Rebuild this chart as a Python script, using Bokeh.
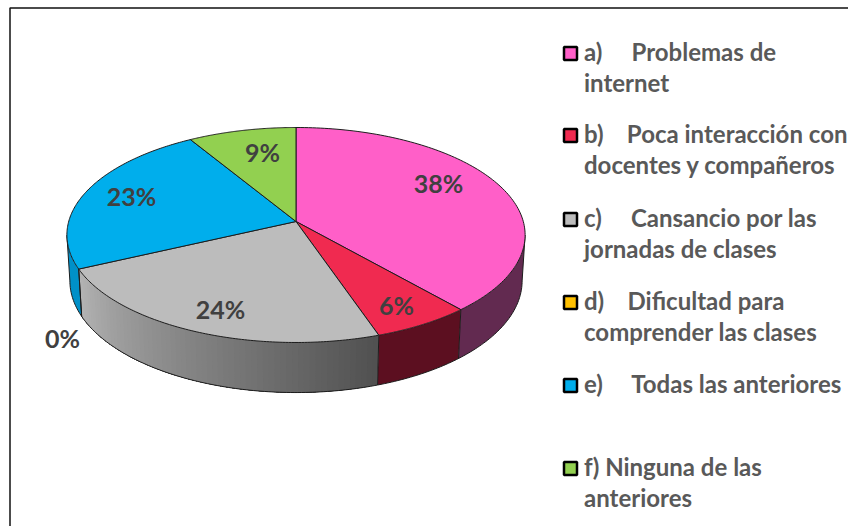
import numpy as np
from bokeh.plotting import figure
from bokeh.models import Range1d
from bokeh.core.properties import value
from bokeh.embed import file_html
from bokeh.resources import INLINE

# ---- data ----
categories = ["a", "b", "c", "d", "e", "f"]
values = [38.6, 6.2, 23.2, 0, 23.4, 8.6]
value_labels = ["38%", "6%", "24%", "0%", "23%", "9%"]
NB = "\u00a0"
legend_labels = [
    "a)" + NB * 4 + " Problemas de\ninternet",
    "b)" + NB * 3 + " Poca interacción con\ndocentes y compañeros",
    "c)" + NB * 4 + " Cansancio por las\njornadas de clases",
    "d)" + NB * 3 + " Dificultad para\ncomprender las clases",
    "e)" + NB * 4 + " Todas las anteriores",
    "f) Ninguna de las\nanteriores",
]
# ---- style ----
top_colors = ["#ff5fc8", "#f02a50", "#bcbcbc", "#ffc000", "#00aeec", "#92d050"]
side_colors = ["#622a50", "#5c0f20", None, "#a87800", "#0090c8", "#5f8a30"]
grey_from, grey_to = np.array([0xb4, 0xb4, 0xb4]), np.array([0x50, 0x50, 0x50])
edge = "#1c1c1c"
# ---- layout (picture pixels) ----
cx, cy, R, S, k, D, m = 295.5, 221.0, 227.3, 105.8, 0.1255, 46.0, 0.013
label_x = [438, 396, 220, 62, 131, 262]
label_y = [182, 304, 308, 337, 195, 151]
legend_y = [53, 135, 219, 302, 385, 468]
FONT = "Lato"
W, H = 848, 526

p = figure(width=W, height=H, output_backend="svg", toolbar_location=None,
           x_range=Range1d(0, W), y_range=Range1d(H, 0),
           min_border=0, outline_line_color=None)
p.axis.visible = False
p.grid.visible = False


def top(theta):
    u, v = np.sin(theta), np.cos(theta)
    w = 1 + k * v
    return cx + R * u / w, cy - S * v / w


def bottom(theta):
    u, v = np.sin(theta), np.cos(theta)
    w = 1 + k * v + m
    return cx + R * u / w, cy + (D - S * v) / w


total = sum(values)
edges = 2 * np.pi * np.cumsum([0] + values) / total
vis0 = np.arccos(-k)
vis1 = 2 * np.pi - vis0

# sides: solid polygons, and overlapping strips for the shaded one
sx, sy, sc = [], [], []
for i in range(len(values)):
    a, b = max(edges[i], vis0), min(edges[i + 1], vis1)
    if b <= a:
        continue
    if side_colors[i] is not None:
        t = np.linspace(a, b, 60)
        xa, ya = top(t)
        xb, yb = bottom(t[::-1])
        sx.append(np.r_[xa, xb].tolist())
        sy.append(np.r_[ya, yb].tolist())
        sc.append(side_colors[i])
    else:
        n = 64
        ts = np.linspace(a, b, n + 1)
        # painted from the far end so each strip reaches under the next one
        for j in range(n):
            t = np.linspace(ts[j], b, 40)
            xa, ya = top(t)
            xb, yb = bottom(t[::-1])
            sx.append(np.r_[xa, xb].tolist())
            sy.append(np.r_[ya, yb].tolist())
            f = (j + 0.5) / n
            c = grey_to + (grey_from - grey_to) * f
            sc.append("#%02x%02x%02x" % tuple(int(round(q)) for q in c))
p.patches(sx, sy, fill_color=sc, line_color=None)

# side outlines
rim = np.linspace(vis0, vis1, 200)
rx, ry = bottom(rim)
lx, ly = [rx.tolist()], [ry.tolist()]
for t in [vis0, vis1] + [e for e in edges if vis0 < e < vis1]:
    xa, ya = top(np.array([t]))
    xb, yb = bottom(np.array([t]))
    lx.append([xa[0], xb[0]])
    ly.append([ya[0], yb[0]])
p.multi_line(lx, ly, line_color=edge, line_width=1)

# top faces
fx, fy, fc = [], [], []
for i in range(len(values)):
    if values[i] == 0:
        continue
    t = np.linspace(edges[i], edges[i + 1], 120)
    x, y = top(t)
    fx.append([cx] + x.tolist())
    fy.append([cy] + y.tolist())
    fc.append(top_colors[i])
p.patches(fx, fy, fill_color=fc, line_color=edge, line_width=1)

# slice labels
p.text(label_x, label_y, text=value_labels, text_font=value(FONT),
       text_font_style="bold", text_font_size="25px", text_color="#404040",
       text_align="center", text_baseline="middle")

# legend
p.scatter([570] * len(legend_y), legend_y, marker="square", size=13,
          fill_color=top_colors, line_color="#000000", line_width=2.5)
p.text([583.5] * len(legend_y), [y - 17 for y in legend_y], text=legend_labels,
       text_font=value(FONT), text_font_style="bold", text_font_size="24px",
       text_color="#595959", text_align="left", text_baseline="top",
       text_line_height=1.08)

# frame: top and left edges only
p.line([848, 9.5, 9.5], [7.5, 7.5, 526], line_color="#111111", line_width=1.5)

open("out.html", "w").write(file_html(p, INLINE))
